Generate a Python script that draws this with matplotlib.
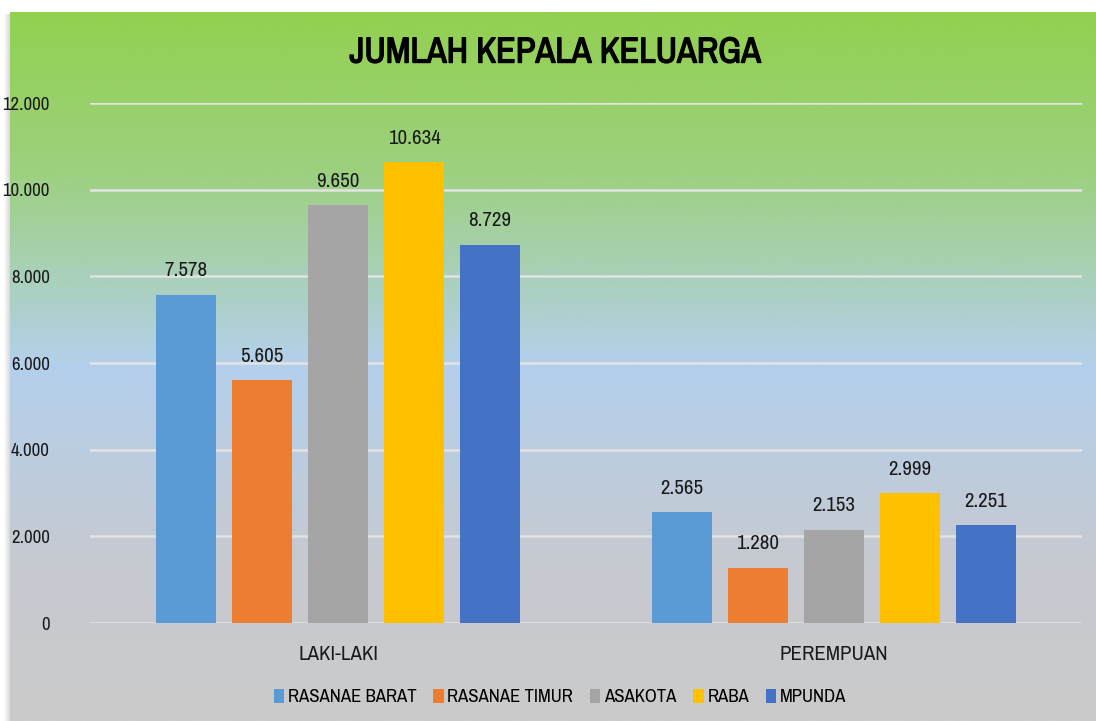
import numpy as np
import matplotlib.pyplot as plt
import matplotlib.patheffects as pe
from matplotlib import font_manager
from matplotlib.colors import LinearSegmentedColormap
from matplotlib.ticker import FuncFormatter

categories = ['LAKI-LAKI', 'PEREMPUAN']
series_names = ['RASANAE BARAT', 'RASANAE TIMUR', 'ASAKOTA', 'RABA', 'MPUNDA']
values = {
    'RASANAE BARAT': [7578, 2565],
    'RASANAE TIMUR': [5605, 1280],
    'ASAKOTA': [9650, 2153],
    'RABA': [10634, 2999],
    'MPUNDA': [8729, 2251],
}
colors = ['#5B9BD5', '#ED7D31', '#A5A5A5', '#FFC000', '#4472C4']
title = 'JUMLAH KEPALA KELUARGA'

# pick a narrow face if one is installed, otherwise Roboto
narrow = sorted({f.name for f in font_manager.fontManager.ttflist
                 if 'Condensed' in f.name or 'Narrow' in f.name})
FONT = narrow[:1] + ['Roboto', 'DejaVu Sans']
plt.rcParams['font.family'] = FONT


def dot_fmt(v):
    return f'{int(round(v)):,}'.replace(',', '.')


fig = plt.figure(figsize=(10.96, 7.21), dpi=100)

# gradient background panel
bg = fig.add_axes([10 / 1096, 0, 1 - 10 / 1096, 1 - 12 / 721])
grad = LinearSegmentedColormap.from_list(
    'bg', [(0.0, '#92D050'), (0.22, '#9DD07E'), (0.50, '#B4D0EC'),
           (0.78, '#C6C9D0'), (1.0, '#CBCBCB')])
bg.imshow(np.linspace(0, 1, 256).reshape(-1, 1), aspect='auto', cmap=grad,
          extent=[0, 1, 0, 1])
bg.set_axis_off()

# faint shadow on the left edge
sh = fig.add_axes([4 / 1096, 0, 6 / 1096, 1 - 14 / 721])
sh.imshow(np.linspace(0, 1, 16).reshape(1, -1), aspect='auto',
          cmap=LinearSegmentedColormap.from_list('sh', ['#FFFFFF', '#D8D8D8']))
sh.set_axis_off()

ax = fig.add_axes([90 / 1096, (721 - 623) / 721, (1082 - 90) / 1096, (623 - 103) / 721])
ax.patch.set_alpha(0)

x = np.arange(len(categories))
slot = 76 / 496
width = 60 / 496
for i, (name, c) in enumerate(zip(series_names, colors)):
    pos = x + (i - 2) * slot
    bars = ax.bar(pos, values[name], width, color=c, label=name, zorder=3)
    for b, v in zip(bars, values[name]):
        ax.text(b.get_x() + b.get_width() / 2, v + 330, dot_fmt(v),
                ha='center', va='bottom', fontsize=15, color='#1A1A1A')

ax.set_xlim(-0.5, 1.5)
ax.set_ylim(0, 12000)
ax.set_yticks(np.arange(0, 12001, 2000))
ax.yaxis.set_major_formatter(FuncFormatter(lambda v, p: dot_fmt(v)))
ax.set_xticks(x)
ax.set_xticklabels(categories)
ax.tick_params(axis='both', length=0, labelsize=15, colors='#1A1A1A')
ax.tick_params(axis='y', labelsize=13.5, pad=29)
ax.tick_params(axis='x', pad=16)
ax.grid(axis='y', color='#E3E3E3', linewidth=1.8, zorder=0)
for s in ax.spines.values():
    s.set_visible(False)

t = fig.text(555 / 1096, 1 - 52 / 721, title, ha='center', va='center',
             fontsize=26, fontweight='bold', color='black')
t.set_path_effects([pe.withStroke(linewidth=1.0, foreground='black')])

fig.legend(loc='center', bbox_to_anchor=(560 / 1096, 1 - 697 / 721), ncol=5,
           frameon=False, fontsize=13.5, handlelength=0.55, handleheight=0.8,
           handletextpad=0.2, columnspacing=0.9)

fig.savefig('out.png', dpi=100)
